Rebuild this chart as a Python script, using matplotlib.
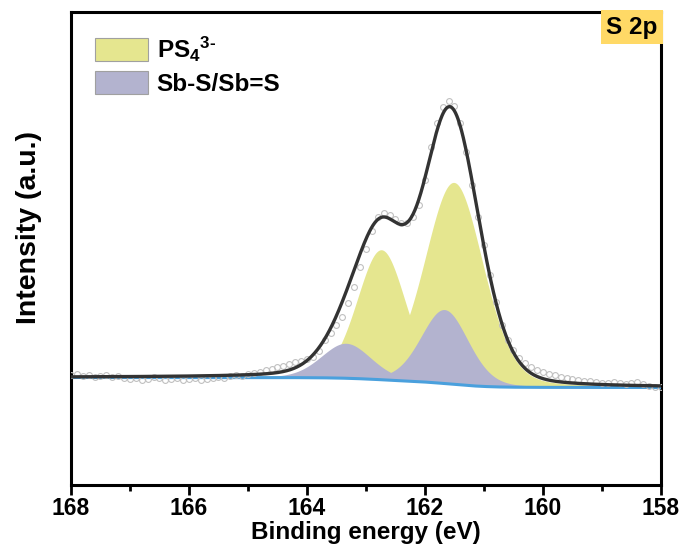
import numpy as np
import matplotlib
matplotlib.use("Agg")
import matplotlib.pyplot as plt
from matplotlib.patches import Patch

plt.rcParams['font.family'] = ['Liberation Sans', 'DejaVu Sans']
plt.rcParams['font.weight'] = 'bold'
plt.rcParams['mathtext.fontset'] = 'custom'
plt.rcParams['mathtext.rm'] = 'Liberation Sans:bold'
plt.rcParams['mathtext.bf'] = 'Liberation Sans:bold'
plt.rcParams['mathtext.default'] = 'rm'

# Measured S 2p spectrum (binding energy in eV, intensity in a.u.)
energy_start = 168.0
energy_step = -0.1
intensity = [
    110, 111, 109, 110, 108, 109, 110, 108, 109, 107,
    106, 107, 105, 106, 108, 107, 105, 106, 107, 105,
    106, 107, 105, 106, 107, 108, 107, 109, 110, 109,
    111, 112, 113, 115, 116, 118, 119, 121, 123, 124,
    126, 128, 134, 145, 152, 160, 168, 182, 198, 218,
    236, 254, 268, 272, 270, 266, 262, 262, 268, 280,
    305, 338, 362, 378, 384, 379, 362, 333, 300, 268,
    240, 210, 183, 160, 145, 135, 127, 122, 118, 115,
    113, 111, 110, 108, 107, 106, 105, 104, 104, 103,
    102, 102, 103, 102, 101, 102, 103, 101, 99, 98,
    98,
]

# Fitted components: centre (eV), height (a.u.), FWHM (eV), Lorentzian fraction
comp_centers = [162.74, 161.51, 163.34, 161.67]
comp_heights = [130, 202, 35, 74]
comp_fwhm = [0.97, 1.17, 1.00, 0.95]
comp_eta = [0.15, 0.20, 0.20, 0.20]
comp_group = ['ps4', 'ps4', 'sbs', 'sbs']

# Shirley background end levels (high-BE side, low-BE side)
bg_high = 107.5
bg_low = 97.5

legend_labels = [r'PS$_4$$^{3\text{-}}$', 'Sb-S/Sb=S']

col_ps4 = '#e5e68f'
col_sbs = '#b3b3cf'
col_bg = '#4aa0dd'
col_env = '#333333'


def pseudo_voigt(x, c, h, w, eta):
    d2 = (x - c) ** 2
    g = np.exp(-4 * np.log(2) * d2 / w ** 2)
    lz = 1.0 / (1.0 + 4 * d2 / w ** 2)
    return h * ((1 - eta) * g + eta * lz)


e_data = energy_start + energy_step * np.arange(len(intensity))
x = np.linspace(168.0, 158.0, 1001)

comps = [pseudo_voigt(x, c, h, w, et) for c, h, w, et in
         zip(comp_centers, comp_heights, comp_fwhm, comp_eta)]
total = np.sum(comps, axis=0)

# Shirley-type background: step proportional to peak area on the low-BE side
xs = x[::-1]
area_low = np.concatenate([[0], np.cumsum(0.5 * (total[::-1][1:] + total[::-1][:-1]) * np.diff(xs))])
frac = (area_low / area_low[-1])[::-1]
background = bg_low + (bg_high - bg_low) * frac
envelope = background + total

fig = plt.figure(figsize=(6.86, 5.59), dpi=100)
ax = fig.add_axes([0.1035, 0.1324, 0.86, 0.8461])

for comp, grp in zip(comps, comp_group):
    if grp == 'ps4':
        ax.fill_between(x, background, background + comp, color=col_ps4, lw=0, zorder=2)
for comp, grp in zip(comps, comp_group):
    if grp == 'sbs':
        ax.fill_between(x, background, background + comp, color=col_sbs, lw=0, zorder=3)

ax.plot(x, background, color=col_bg, lw=2.2, zorder=4)
ax.plot(e_data, intensity, 'o', ms=4.2, mfc='none', mec='#c0c0c0', mew=0.8, zorder=5)
ax.plot(x, envelope, color=col_env, lw=2.4, zorder=6)

ax.set_xlim(168, 158)
ax.set_ylim(0, 473)
ax.set_xticks([168, 166, 164, 162, 160, 158])
ax.set_xticks([167, 165, 163, 161, 159], minor=True)
ax.set_yticks([])
ax.tick_params(axis='x', which='major', direction='out', length=7, width=2.0,
               labelsize=16.5, pad=1.5)
ax.tick_params(axis='x', which='minor', direction='out', length=4, width=2.0)
for s in ax.spines.values():
    s.set_linewidth(2.2)

ax.set_xlabel('Binding energy (eV)', fontsize=17.5, fontweight='bold', labelpad=1)
ax.set_ylabel('Intensity (a.u.)', fontsize=20.5, fontweight='bold')
ax.yaxis.set_label_coords(-0.049, 0.545)

handles = [Patch(facecolor=col_ps4, edgecolor='#a0a0a0', lw=0.8),
           Patch(facecolor=col_sbs, edgecolor='#a0a0a0', lw=0.8)]
ax.legend(handles, legend_labels, loc='upper left', bbox_to_anchor=(0.04, 0.952),
          frameon=False, fontsize=17.5, handlelength=2.2, handleheight=1.05,
          handletextpad=0.35, labelspacing=0.3, borderpad=0, borderaxespad=0)

ax.text(0.994, 0.992, 'S 2p', transform=ax.transAxes, ha='right', va='top',
        fontsize=17.5, fontweight='bold',
        bbox=dict(boxstyle='square,pad=0.22', fc='#ffd966', ec='none'))

fig.savefig('out.png', dpi=100)
